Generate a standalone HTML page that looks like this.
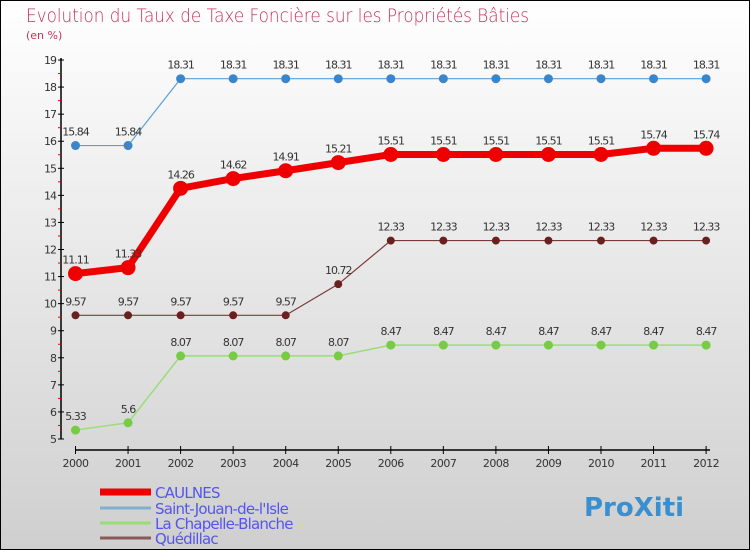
<!DOCTYPE html>
<html><head><meta charset="utf-8"><style>
body{margin:0;}
#c{width:750px;height:550px;position:relative;box-sizing:border-box;border:1px solid #000;background:linear-gradient(#ffffff,#cfcfcf);font-family:"DejaVu Sans","Liberation Sans",sans-serif;overflow:hidden}
</style></head><body>
<div id="c">
<svg id="s" width="750" height="550" style="position:absolute;left:-1px;top:-1px">
<text x="26" y="22" font-size="19" fill="#c8325a" style="font-weight:200" textLength="503" lengthAdjust="spacingAndGlyphs">Evolution du Taux de Taxe Foncière sur les Propriétés Bâties</text>
<text x="26" y="39" font-size="11" fill="#c8325a">(en %)</text>
</svg>
</div>
<script>
const years=[2000,2001,2002,2003,2004,2005,2006,2007,2008,2009,2010,2011,2012];
const caulnes=[11.11,11.33,14.26,14.62,14.91,15.21,15.51,15.51,15.51,15.51,15.51,15.74,15.74];
const stJouan=[15.84,15.84,18.31,18.31,18.31,18.31,18.31,18.31,18.31,18.31,18.31,18.31,18.31];
const chapelle=[5.33,5.6,8.07,8.07,8.07,8.07,8.47,8.47,8.47,8.47,8.47,8.47,8.47];
const quedillac=[9.57,9.57,9.57,9.57,9.57,10.72,12.33,12.33,12.33,12.33,12.33,12.33,12.33];
const yTicks=[5,6,7,8,9,10,11,12,13,14,15,16,17,18,19];
const seriesNames=["CAULNES","Saint-Jouan-de-l'Isle","La Chapelle-Blanche","Quédillac"];
const svg=document.getElementById('s');const NS='http://www.w3.org/2000/svg';
const X=i=>75.5+i*52.55;const Y=v=>439-(v-5)*27.07;
function mk(t,a,p){const e=document.createElementNS(NS,t);for(const k in a)e.setAttribute(k,a[k]);(p||svg).appendChild(e);return e;}
// axes
let ya=mk('line',{x1:61,y1:58,x2:61,y2:439,stroke:'#000','stroke-width':1.5});


let xa=mk('line',{x1:75,y1:450,x2:710,y2:450,stroke:'#000','stroke-width':1.5});


yTicks.forEach(v=>{
 mk('line',{x1:58,y1:Y(v),x2:64,y2:Y(v),stroke:'#000'});
 if(v<19)mk('line',{x1:58,y1:Y(v+0.5),x2:61,y2:Y(v+0.5),stroke:'#e00'});
 const t=mk('text',{x:56,y:Y(v)+4,'font-size':11,'text-anchor':'end',fill:'#333','letter-spacing':'-1'});
 t.textContent=v;
 
 
});
years.forEach((y,i)=>{
 mk('line',{x1:X(i),y1:446,x2:X(i),y2:454,stroke:'#000'});
 const t=mk('text',{x:X(i),y:467,'font-size':11,'text-anchor':'middle',fill:'#333','letter-spacing':'-0.5'});
 t.textContent=y;
 
 
});
function series(vals,col,w,r,name,mcol){
 const g=mk('g',{});
 
 
 mk('polyline',{points:vals.map((v,i)=>X(i)+','+Y(v)).join(' '),fill:'none',stroke:col,'stroke-width':w,'stroke-linejoin':'round'},g);
 vals.forEach((v,i)=>{
  const c=mk('circle',{cx:X(i),cy:Y(v),r:r,fill:mcol,stroke:mcol},g);
  
  
  const t=mk('text',{x:X(i),y:Y(v)-10,'font-size':11,'text-anchor':'middle',fill:'#333','letter-spacing':'-1'},g);
  t.textContent=v;
  
  
 });
}
series(quedillac,'#7a3a3a',1.2,3.5,'series-quedillac','#6b2020');
series(chapelle,'#99dd77',1.5,4,'series-la-chapelle-blanche','#77cc44');
series(stJouan,'#5aa0d8',1.2,4,'series-saint-jouan','#3a86c8');
series(caulnes,'#ee0000',7,7,'series-caulnes','#ee0000');
const lc=['#ee0000','#7fb0d0','#99dd77','#8a5a5a'],lw=[7,3,3,3],ly=[492,508,523,538];
seriesNames.forEach((n,i)=>{
 const g=mk('g',{});
 
 
 mk('line',{x1:100,y1:ly[i],x2:151,y2:ly[i],stroke:lc[i],'stroke-width':lw[i]},g);
 const t=mk('text',{x:155,y:ly[i]+6,'font-size':15,fill:'#5555ee','letter-spacing':'-0.8'},g);
 t.textContent=n;
});
const lg=mk('text',{x:584,y:516,'font-size':26,'font-weight':'bold',fill:'#3a8fd0'});
lg.textContent='ProXiti';


</script>
</body></html>
